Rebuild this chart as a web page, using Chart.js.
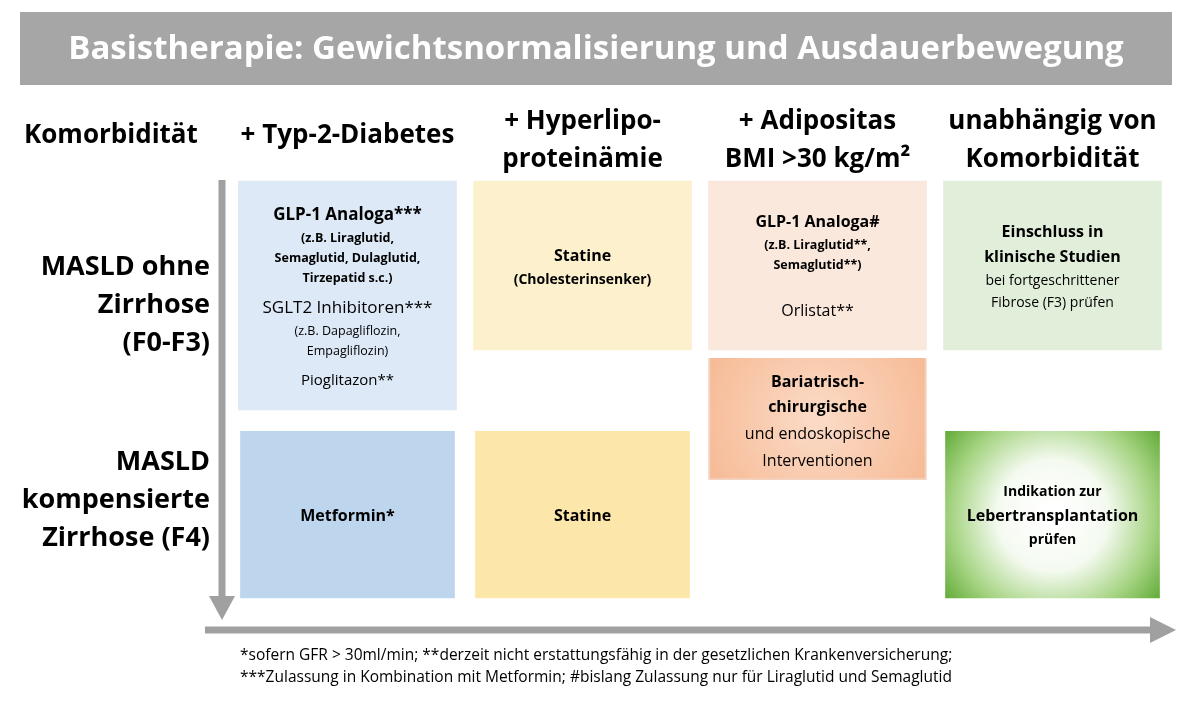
<!DOCTYPE html>
<html><head><meta charset="utf-8">
<script src="https://cdn.jsdelivr.net/npm/chart.js@4"></script>
<style>html,body{margin:0;background:#fff}#w{width:1200px;height:705px}</style>
</head><body><div id="w"><canvas id="c"></canvas></div>
<script>
const FONT = '"Open Sans", sans-serif';
const categories = ['+ Typ-2-Diabetes', '+ Hyperlipo-\nproteinämie', '+ Adipositas\nBMI >30 kg/m²', 'unabhängig von\nKomorbidität'];
const rowLabels = ['MASLD ohne\nZirrhose\n(F0-F3)', 'MASLD\nkompensierte\nZirrhose (F4)'];
const upperBoxes = [[181, 410], [181, 350], [181, 350], [181, 350]];
const lowerBoxes = [[431, 600], [431, 600], [358, 480], [431, 600]];
const upperColors = ['#dde9f6', '#fdf0cd', '#fbe8dd', '#e1efda'];
const lowerColors = ['#bdd5ed', '#fde6a9', '#f8c6a8', 'grad'];
const upperTexts = [
 [['GLP-1 Analoga***',17,1],['(z.B. Liraglutid,',12.5,1],['Semaglutid, Dulaglutid,',12.5,1],['Tirzepatid s.c.)',12.5,1],['SGLT2 Inhibitoren***',17,0],['(z.B. Dapagliflozin,',12.5,0],['Empagliflozin)',12.5,0],['Pioglitazon**',15,0]],
 [['Statine',16,1],['(Cholesterinsenker)',14,1]],
 [['GLP-1 Analoga#',16,1],['(z.B. Liraglutid**,',12.5,1],['Semaglutid**)',12.5,1],['',8,0],['Orlistat**',16,0]],
 [['Einschluss in',16,1],['klinische Studien',16,1],['bei fortgeschrittener',14,0],['Fibrose (F3) prüfen',14,0]]
];
const upperLineY = [[215,238,258,278,308,331,351,381],[256,280],[222,245,265,288,311],[232,257,281,303]];
const lowerTexts = [[['Metformin*',16,1]],[['Statine',16,1]],[['Bariatrisch-',16,1],['chirurgische',16,1],['und endoskopische',16,0],['Interventionen',16,0]],[['Indikation zur',14,1],['Lebertransplantation',16,1],['prüfen',14,1]]];
const lowerLineY = [[516],[516],[382,407,434,461],[492,516,540]];
const title = 'Basistherapie: Gewichtsnormalisierung und Ausdauerbewegung';
const footnotes = ['*sofern GFR > 30ml/min; **derzeit nicht erstattungsfähig in der gesetzlichen Krankenversicherung;', '***Zulassung in Kombination mit Metformin; #bislang Zulassung nur für Liraglutid und Semaglutid'];
const cornerLabel = 'Komorbidität';

function grad(ctx){
  const {chart} = ctx; const el = chart.getDatasetMeta(1).data[3];
  if(!el) return '#7cc04f';
  const cx = el.x, cy = (el.y + el.base)/2;
  const g = chart.ctx.createRadialGradient(cx, cy, 10, cx, cy, 140);
  g.addColorStop(0,'#ffffff'); g.addColorStop(0.35,'#f4faf0'); g.addColorStop(0.7,'#a6d483'); g.addColorStop(1,'#5aa62f');
  return g;
}
function orangeGrad(ctx){
  const {chart} = ctx; const el = chart.getDatasetMeta(1).data[2];
  if(!el) return '#f8c6a8';
  const cx = el.x, cy = (el.y + el.base)/2;
  const g = chart.ctx.createRadialGradient(cx, cy, 10, cx, cy, 130);
  g.addColorStop(0,'#fbd9c4'); g.addColorStop(1,'#f6b892');
  return g;
}
const overlay = {
 id:'overlay',
 beforeDatasetsDraw(chart){
  const c = chart.ctx; c.save();
  c.fillStyle='#a6a6a6'; c.fillRect(20,12,1152,73);
  c.fillStyle='#fff'; c.font='bold 33px '+FONT; c.textAlign='center'; c.textBaseline='middle';
  c.fillText(title,596,50,1115);
  c.fillStyle='#000'; c.font='bold 26px '+FONT;
  c.textAlign='left'; c.fillText(cornerLabel,24,136);
  const xs = chart.scales.x;
  categories.forEach((t,i)=>{const ls=t.split('\n');const x=xs.getPixelForValue(i);c.textAlign='center';
    const ys = ls.length===1?[136]:[122,160]; ls.forEach((l,j)=>c.fillText(l,x,ys[j]));});
  c.font='bold 27px '+FONT; c.textAlign='right';
  const rys=[[267,305,343],[462,500,538]];
  rowLabels.forEach((t,i)=>t.split('\n').forEach((l,j)=>c.fillText(l,210,rys[i][j])));
  c.fillStyle='#a0a0a0'; c.strokeStyle='#a0a0a0'; c.lineWidth=7;
  c.beginPath(); c.moveTo(222,180); c.lineTo(222,598); c.stroke();
  c.beginPath(); c.moveTo(209,596); c.lineTo(235,596); c.lineTo(222,620); c.closePath(); c.fill();
  c.beginPath(); c.moveTo(205,630); c.lineTo(1152,630); c.stroke();
  c.beginPath(); c.moveTo(1150,617); c.lineTo(1150,643); c.lineTo(1176,630); c.closePath(); c.fill();
  c.fillStyle='#000'; c.font='15.5px '+FONT; c.textAlign='left';
  c.fillText(footnotes[0],240,656); c.fillText(footnotes[1],240,678);
  c.restore();
 },
 afterDatasetsDraw(chart){
  const c=chart.ctx; c.save(); c.fillStyle='#000'; c.textAlign='center'; c.textBaseline='middle';
  const xs=chart.scales.x;
  const draw=(texts,ys)=>texts.forEach((box,i)=>box.forEach((t,j)=>{c.font=(t[2]?'bold ':'')+t[1]+'px '+FONT;c.fillText(t[0],xs.getPixelForValue(i),ys[i][j]);}));
  draw(upperTexts,upperLineY); draw(lowerTexts,lowerLineY);
  c.restore();
 }
};
new Chart(document.getElementById('c'),{
 type:'bar',
 data:{labels:categories,datasets:[
  {data:upperBoxes,backgroundColor:upperColors,grouped:false,barThickness:218},
  {data:lowerBoxes,backgroundColor:lowerColors.map(c=>c),grouped:false,barThickness:218}
 ]},
 options:{responsive:true,maintainAspectRatio:false,animation:false,
  layout:{padding:{left:230,right:30,top:0,bottom:0}},
  plugins:{legend:{display:false},tooltip:{enabled:false}},
  scales:{x:{display:false,offset:true},y:{display:false,min:0,max:705,reverse:true}}},
 plugins:[overlay]
});
const ch = Chart.getChart('c');
ch.data.datasets[1].backgroundColor = (ctx)=> ctx.dataIndex===3 ? grad(ctx) : ctx.dataIndex===2 ? orangeGrad(ctx) : lowerColors[ctx.dataIndex];
ch.data.datasets[1].borderColor = (ctx)=> ctx.dataIndex===2 ? '#f3d3c0' : 'transparent';
ch.data.datasets[1].borderWidth = 2;
ch.update();
</script></body></html>
